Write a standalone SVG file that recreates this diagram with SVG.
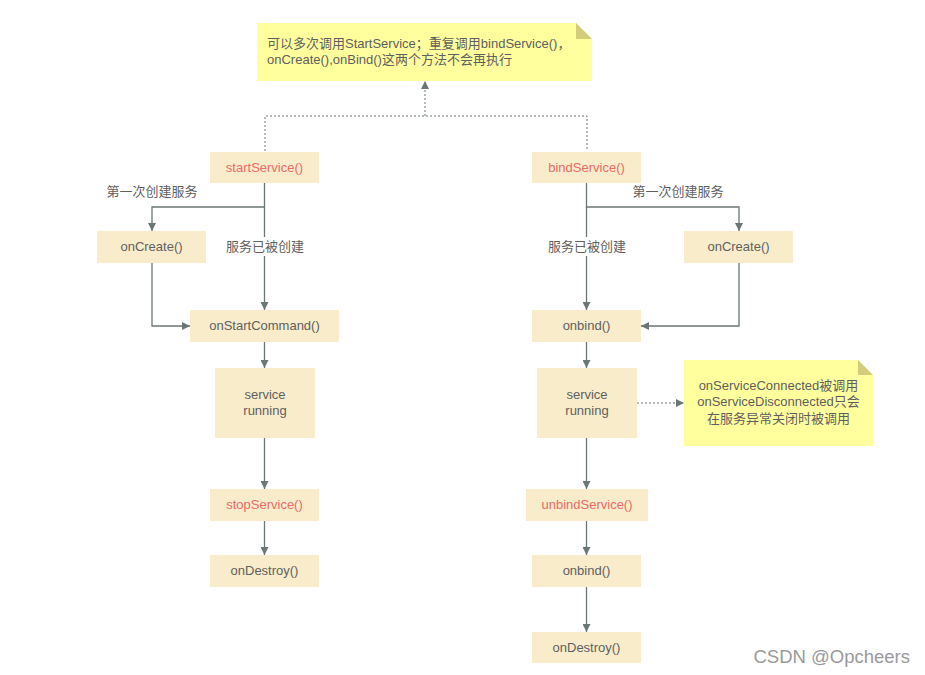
<svg xmlns="http://www.w3.org/2000/svg" width="925" height="675" viewBox="0 0 925 675">
<defs>
<style>
.box{fill:#f8ecca;}
.t{font-family:"Liberation Sans","Noto Sans CJK SC",sans-serif;font-size:13px;fill:#5f6060;text-anchor:middle;dominant-baseline:central;}
.r{fill:#ec6a6a;}
.note{fill:#ffff9e;}
.fold{fill:#d3cc7b;}
.ln{fill:none;stroke:#6b7676;stroke-width:1.3;}
.dot{fill:none;stroke:#6b7676;stroke-width:1;stroke-dasharray:2 2;}
.lbl{fill:#ffffff;}
</style>
<marker id="ah" viewBox="0 0 10 10" refX="10" refY="5" markerWidth="8" markerHeight="8" markerUnits="userSpaceOnUse" orient="auto">
<path d="M0,0 L10,5 L0,10 Z" fill="#6b7676"/>
</marker>
</defs>
<rect width="925" height="675" fill="#ffffff"/>

<g id="connectors">
<path class="dot" d="M265,151 V116 H587 V151"/>
<path class="dot" d="M425,116 V81" marker-end="url(#ah)"/>
<path class="ln" d="M264.5,183 V207 H152 V231" marker-end="url(#ah)"/>
<path class="ln" d="M264.5,207 V310" marker-end="url(#ah)"/>
<path class="ln" d="M152,263 V326 H190" marker-end="url(#ah)"/>
<path class="ln" d="M264.5,342 V368" marker-end="url(#ah)"/>
<path class="ln" d="M264.5,438 V489" marker-end="url(#ah)"/>
<path class="ln" d="M264.5,521 V555" marker-end="url(#ah)"/>
<path class="ln" d="M586.5,183 V207 H739 V231" marker-end="url(#ah)"/>
<path class="ln" d="M586.5,207 V310" marker-end="url(#ah)"/>
<path class="ln" d="M739,263 V326 H641" marker-end="url(#ah)"/>
<path class="ln" d="M586.5,342 V368" marker-end="url(#ah)"/>
<path class="dot" d="M637,403 H684" marker-end="url(#ah)"/>
<path class="ln" d="M586.5,438 V489" marker-end="url(#ah)"/>
<path class="ln" d="M586.5,521 V555" marker-end="url(#ah)"/>
<path class="ln" d="M586.5,587 V632" marker-end="url(#ah)"/>
<g id="edge-labels">
<text class="t" x="152" y="191.5">第一次创建服务</text>
<rect class="lbl" x="226" y="237" width="80" height="19"/>
<text class="t" x="265" y="246.5">服务已被创建</text>
<rect class="lbl" x="547" y="237" width="80" height="19"/>
<text class="t" x="587" y="246.5">服务已被创建</text>
<text class="t" x="678" y="191.5">第一次创建服务</text>
</g>
</g>

<g id="note-top">
<path class="note" d="M257,23 H576 L592,39 V81 H257 Z"/>
<path class="fold" d="M576,23 L592,39 H576 Z"/>
<text class="t" x="267" y="43" style="text-anchor:start">可以多次调用StartService；重复调用bindService()，</text>
<text class="t" x="267" y="59" style="text-anchor:start">onCreate(),onBind()这两个方法不会再执行</text>
</g>

<g id="startService"><rect class="box" x="210" y="152" width="109" height="31"/><text class="t r" x="264.5" y="167">startService()</text></g>
<g id="onCreate-left"><rect class="box" x="97" y="231" width="109" height="32"/><text class="t" x="151.5" y="246.5">onCreate()</text></g>
<g id="onStartCommand"><rect class="box" x="190" y="310" width="149" height="32"/><text class="t" x="264.5" y="325.5">onStartCommand()</text></g>
<g id="running-left"><rect class="box" x="215" y="368" width="100" height="70"/><text class="t" x="265" y="394.5">service</text><text class="t" x="265" y="410.5">running</text></g>
<g id="stopService"><rect class="box" x="210" y="489" width="109" height="32"/><text class="t r" x="264.5" y="504.5">stopService()</text></g>
<g id="onDestroy-left"><rect class="box" x="210" y="555" width="109" height="32"/><text class="t" x="264.5" y="570.5">onDestroy()</text></g>

<g id="bindService"><rect class="box" x="532" y="152" width="109" height="31"/><text class="t r" x="586.5" y="167">bindService()</text></g>
<g id="onCreate-right"><rect class="box" x="684" y="231" width="109" height="32"/><text class="t" x="738.5" y="246.5">onCreate()</text></g>
<g id="onbind1"><rect class="box" x="532" y="310" width="109" height="32"/><text class="t" x="586.5" y="325.5">onbind()</text></g>
<g id="running-right"><rect class="box" x="537" y="368" width="100" height="70"/><text class="t" x="587" y="394.5">service</text><text class="t" x="587" y="410.5">running</text></g>
<g id="note-right">
<path class="note" d="M684,360 H858 L873,375 V446 H684 Z"/>
<path class="fold" d="M858,360 L873,375 H858 Z"/>
<text class="t" x="778.5" y="385.5">onServiceConnected被调用</text>
<text class="t" x="778.5" y="401.5">onServiceDisconnected只会</text>
<text class="t" x="778.5" y="418.5">在服务异常关闭时被调用</text>
</g>
<g id="unbindService"><rect class="box" x="526" y="489" width="122" height="32"/><text class="t r" x="587" y="504.5">unbindService()</text></g>
<g id="onbind2"><rect class="box" x="532" y="555" width="109" height="32"/><text class="t" x="586.5" y="570.5">onbind()</text></g>
<g id="onDestroy-right"><rect class="box" x="532" y="632" width="109" height="31"/><text class="t" x="586.5" y="647">onDestroy()</text></g>

<text x="910" y="656" style="font-family:'Liberation Sans',sans-serif;font-size:18.5px;fill:#9a9a9a;text-anchor:end;dominant-baseline:central">CSDN @Opcheers</text>
</svg>
